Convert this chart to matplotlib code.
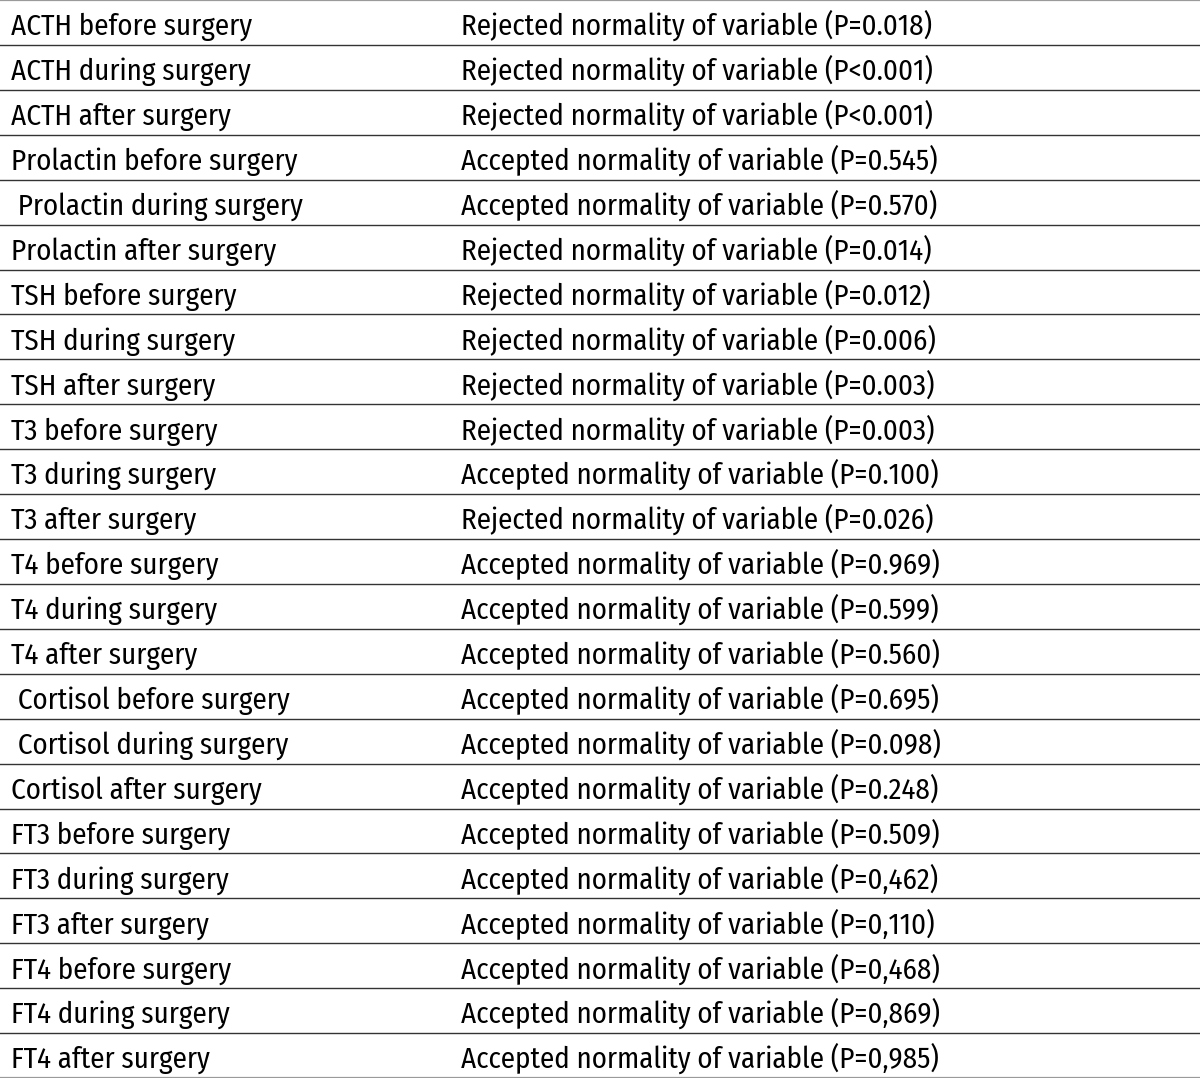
import matplotlib
matplotlib.use('Agg')
import matplotlib.pyplot as plt

# table contents
variables = [
    "ACTH before surgery", "ACTH during surgery", "ACTH after surgery",
    "Prolactin before surgery", " Prolactin during surgery", "Prolactin after surgery",
    "TSH before surgery", "TSH during surgery", "TSH after surgery",
    "T3 before surgery", "T3 during surgery", "T3 after surgery",
    "T4 before surgery", "T4 during surgery", "T4 after surgery",
    " Cortisol before surgery", " Cortisol during surgery", "Cortisol after surgery",
    "FT3 before surgery", "FT3 during surgery", "FT3 after surgery",
    "FT4 before surgery", "FT4 during surgery", "FT4 after surgery",
]
decisions = [
    "Rejected", "Rejected", "Rejected",
    "Accepted", "Accepted", "Rejected",
    "Rejected", "Rejected", "Rejected",
    "Rejected", "Accepted", "Rejected",
    "Accepted", "Accepted", "Accepted",
    "Accepted", "Accepted", "Accepted",
    "Accepted", "Accepted", "Accepted",
    "Accepted", "Accepted", "Accepted",
]
p_values = [
    "P=0.018", "P<0.001", "P<0.001",
    "P=0.545", "P=0.570", "P=0.014",
    "P=0.012", "P=0.006", "P=0.003",
    "P=0.003", "P=0.100", "P=0.026",
    "P=0.969", "P=0.599", "P=0.560",
    "P=0.695", "P=0.098", "P=0.248",
    "P=0.509", "P=0,462", "P=0,110",
    "P=0,468", "P=0,869", "P=0,985",
]

W, H = 1200, 1078
fig = plt.figure(figsize=(W / 100, H / 100), dpi=100)
ax = fig.add_axes([0, 0, 1, 1])
n = len(variables)
ax.set_xlim(0, W)
ax.set_ylim(n, 0)
ax.axis('off')

font = ['Fira Sans Condensed', 'Liberation Sans', 'DejaVu Sans']
fs = 20.8
for i, (var, dec, p) in enumerate(zip(variables, decisions, p_values)):
    y = i + 0.78  # baseline sits low in each row
    ax.text(11, y, var, ha='left', va='baseline', fontsize=fs,
            family=font, color='black')
    ax.text(461, y, f"{dec} normality of variable ({p})", ha='left', va='baseline',
            fontsize=fs, family=font, color='black')

# row rules
for k in range(n + 1):
    if k == 0 or k == n:
        ax.axhline(k, color='#9a9a9a', lw=1.6)
    else:
        ax.axhline(k, color='#333333', lw=1.0)

fig.savefig('out.png', dpi=100)
